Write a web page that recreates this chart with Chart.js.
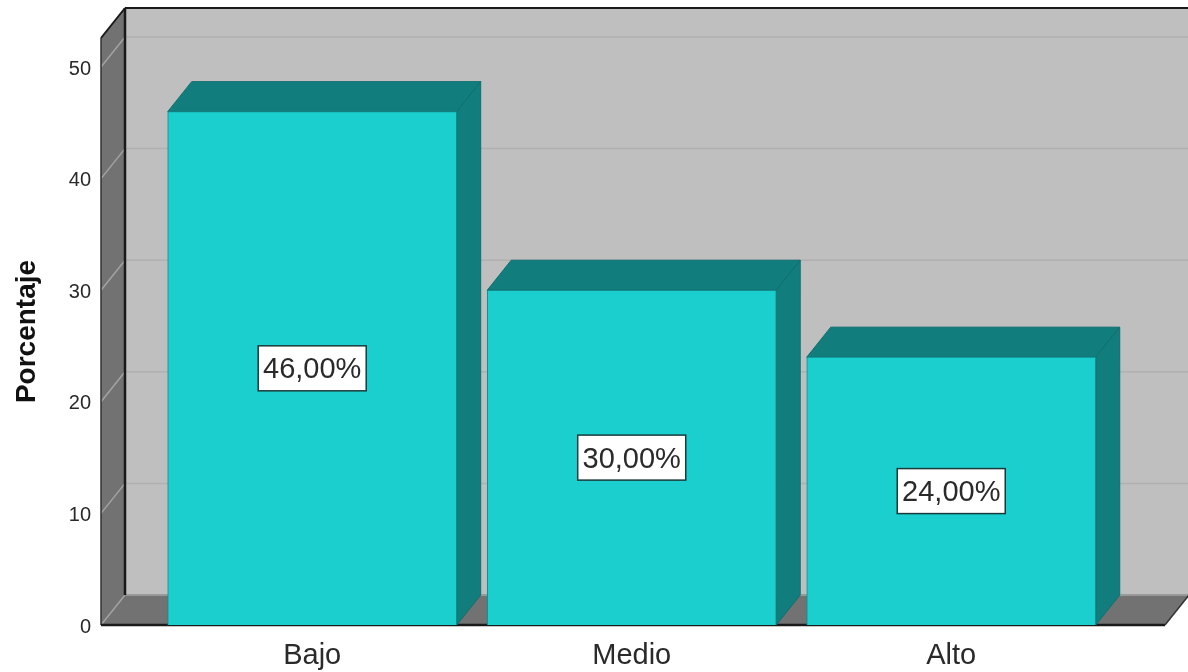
<!DOCTYPE html>
<html>
<head>
<meta charset="utf-8">
<title>Porcentaje</title>
<script src="https://cdn.jsdelivr.net/npm/chart.js@4"></script>
<style>
    html, body { margin: 0; padding: 0; background: #fff; }
    #wrap { width: 1188px; height: 672px; }
</style>
</head>
<body>
<div id="wrap"><canvas id="nivelChart" width="1188" height="672"></canvas></div>
<script>
const categories = ['Bajo', 'Medio', 'Alto'];
const percentages = [46, 30, 24];
const yTicks = [0, 10, 20, 30, 40, 50];

const DEPTH_X = 24;
const DEPTH_Y = 30;
const FONT = '"Liberation Sans", Arial, sans-serif';

function poly(ctx, pts, fill, stroke, lineWidth) {
    ctx.beginPath();
    pts.forEach((p, i) => i ? ctx.lineTo(p[0], p[1]) : ctx.moveTo(p[0], p[1]));
    ctx.closePath();
    if (fill) { ctx.fillStyle = fill; ctx.fill(); }
    if (stroke) { ctx.strokeStyle = stroke; ctx.lineWidth = lineWidth || 1; ctx.stroke(); }
}

function line(ctx, x1, y1, x2, y2, color, width) {
    ctx.beginPath();
    ctx.moveTo(x1, y1);
    ctx.lineTo(x2, y2);
    ctx.strokeStyle = color;
    ctx.lineWidth = width;
    ctx.stroke();
}

// back wall, side wall, floor and the bar sides sit behind the bars
const box3d = {
    id: 'box3d',
    beforeDatasetsDraw(chart) {
        const { ctx, chartArea: a, scales: { y } } = chart;
        const dx = DEPTH_X, dy = DEPTH_Y;
        ctx.save();

        poly(ctx, [[a.left + dx, a.top - dy], [a.right + dx, a.top - dy], [a.right + dx, a.bottom - dy], [a.left + dx, a.bottom - dy]], '#bfbfbf');
        poly(ctx, [[a.left, a.top], [a.left + dx, a.top - dy], [a.left + dx, a.bottom - dy], [a.left, a.bottom]], '#727272');
        poly(ctx, [[a.left, a.bottom], [a.left + dx, a.bottom - dy], [a.right + dx, a.bottom - dy], [a.right, a.bottom]], '#727272');

        yTicks.forEach(t => {
            const py = y.getPixelForValue(t);
            line(ctx, a.left, py, a.left + dx, py - dy, '#a3a3a3', 1.5);
            if (t > 0) line(ctx, a.left + dx, py - dy, a.right + dx, py - dy, '#b0b0b0', 1.5);
        });
        line(ctx, a.left + dx + 1, a.bottom - dy, a.right + dx, a.bottom - dy, '#999999', 2);

        line(ctx, a.left + dx, a.top - dy, a.left + dx, a.bottom - dy, '#1a1a1a', 2.5);
        line(ctx, a.left + dx, a.top - dy, a.right + dx, a.top - dy, '#1a1a1a', 2);
        line(ctx, a.left, a.top, a.left + dx, a.top - dy, '#1a1a1a', 2);
        line(ctx, a.left, a.top, a.left, a.bottom, '#333333', 1.5);
        line(ctx, a.left, a.bottom, a.right, a.bottom, '#1a1a1a', 2.5);
        line(ctx, a.right, a.bottom, a.right + dx, a.bottom - dy, '#333333', 1.5);

        chart.getDatasetMeta(0).data.forEach(bar => {
            const l = bar.x - bar.width / 2, r = bar.x + bar.width / 2;
            const top = bar.y, bot = bar.base;
            poly(ctx, [[l, top], [l + dx, top - dy], [r + dx, top - dy], [r, top]], '#127d7d', '#0f6f6f', 1);
            poly(ctx, [[r, top], [r + dx, top - dy], [r + dx, bot - dy], [r, bot]], '#127d7d', '#0f6f6f', 1);
        });
        ctx.restore();
    },
    afterDatasetsDraw(chart) {
        const { ctx } = chart;
        ctx.save();
        ctx.font = '29px ' + FONT;
        ctx.textAlign = 'center';
        ctx.textBaseline = 'middle';
        chart.getDatasetMeta(0).data.forEach((bar, i) => {
            const text = percentages[i].toFixed(2).replace('.', ',') + '%';
            const cy = (bar.y + bar.base) / 2;
            const w = 108, h = 45;
            ctx.fillStyle = '#ffffff';
            ctx.fillRect(bar.x - w / 2, cy - h / 2, w, h);
            ctx.strokeStyle = '#1a3a3a';
            ctx.lineWidth = 1.5;
            ctx.strokeRect(bar.x - w / 2, cy - h / 2, w, h);
            ctx.fillStyle = '#2a2a2a';
            ctx.fillText(text, bar.x, cy + 2);
        });
        ctx.restore();
    }
};

new Chart(document.getElementById('nivelChart'), {
    type: 'bar',
    data: {
        datasets: [{
            data: percentages.map((v, i) => ({ x: i, y: v })),
            backgroundColor: '#1ccfcf',
            borderColor: '#128a8a',
            borderWidth: 1,
            barThickness: 289
        }]
    },
    plugins: [box3d],
    options: {
        responsive: false,
        animation: false,
        layout: { padding: { top: 38, right: 23, left: 0, bottom: 0 } },
        plugins: { legend: { display: false }, tooltip: { enabled: false } },
        scales: {
            x: {
                type: 'linear',
                offset: false,
                min: -0.661,
                max: 2.669,
                grid: { display: false },
                border: { display: false },
                afterBuildTicks: scale => { scale.ticks = categories.map((c, i) => ({ value: i })); },
                afterFit: scale => { scale.height = 47; },
                ticks: {
                    autoSkip: false,
                    maxRotation: 0,
                    padding: 6,
                    color: '#2a2a2a',
                    font: { family: FONT, size: 29 },
                    callback: v => categories[v]
                }
            },
            y: {
                min: 0,
                max: 52.6,
                grid: { display: false },
                border: { display: false },
                afterBuildTicks: scale => { scale.ticks = yTicks.map(v => ({ value: v })); },
                afterFit: scale => { scale.width = 101; },
                title: {
                    display: true,
                    text: 'Porcentaje',
                    color: '#111111',
                    font: { family: FONT, size: 28, weight: 'bold' },
                    padding: { top: 10, bottom: 0 }
                },
                ticks: {
                    padding: 2,
                    labelOffset: 2,
                    color: '#2a2a2a',
                    font: { family: FONT, size: 20 }
                }
            }
        }
    }
});
</script>
</body>
</html>
